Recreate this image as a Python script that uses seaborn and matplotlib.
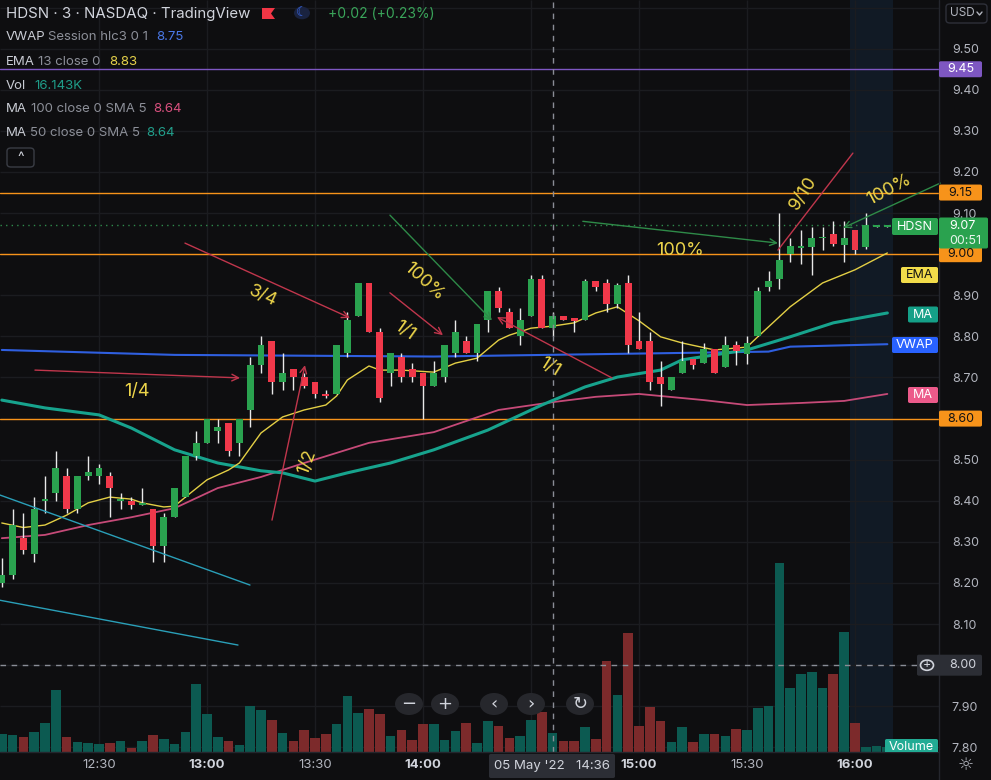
import numpy as np
import pandas as pd
import matplotlib
matplotlib.use("Agg")
import matplotlib.pyplot as plt
import seaborn as sns
from matplotlib.patches import FancyBboxPatch, Circle, Polygon

# ─── HDSN 3 min candles, 05 May '22, first visible bar = 12:03 ───
opens = [
    8.20, 8.22, 8.31, 8.27, 8.40, 8.42, 8.46, 8.38, 8.46, 8.46,
    8.46, 8.40, 8.40, 8.39, 8.38, 8.29, 8.36, 8.41, 8.51, 8.54,
    8.57, 8.59, 8.54, 8.62, 8.73, 8.79, 8.69, 8.72, 8.70, 8.69,
    8.66, 8.66, 8.76, 8.85, 8.93, 8.81, 8.71, 8.75, 8.72, 8.71,
    8.68, 8.70, 8.76, 8.79, 8.76, 8.84, 8.91, 8.86, 8.80, 8.85,
    8.94, 8.82, 8.85, 8.845, 8.84, 8.935, 8.93, 8.88, 8.93, 8.79,
    8.79, 8.70, 8.67, 8.71, 8.745, 8.735, 8.77, 8.725, 8.78, 8.757,
    8.80, 8.92, 8.94, 9.00, 9.014, 9.018, 9.039, 9.05, 9.022, 9.06,
    9.017, 9.067, 9.065]
highs = [
    8.26, 8.38, 8.37, 8.41, 8.46, 8.52, 8.48, 8.46, 8.51, 8.49,
    8.47, 8.42, 8.41, 8.43, 8.38, 8.37, 8.43, 8.51, 8.57, 8.60,
    8.60, 8.59, 8.60, 8.75, 8.80, 8.79, 8.76, 8.72, 8.71, 8.69,
    8.67, 8.78, 8.86, 8.93, 8.93, 8.82, 8.76, 8.76, 8.735, 8.71,
    8.74, 8.78, 8.84, 8.80, 8.83, 8.91, 8.92, 8.87, 8.87, 8.95,
    8.95, 8.86, 8.85, 8.845, 8.94, 8.935, 8.94, 8.93, 8.95, 8.86,
    8.81, 8.74, 8.70, 8.79, 8.745, 8.785, 8.77, 8.80, 8.79, 8.80,
    8.92, 8.96, 9.10, 9.04, 9.06, 9.067, 9.067, 9.08, 9.08, 9.06,
    9.10, 9.07, 9.07]
lows = [
    8.19, 8.21, 8.27, 8.25, 8.37, 8.40, 8.37, 8.37, 8.45, 8.44,
    8.36, 8.38, 8.38, 8.39, 8.25, 8.25, 8.36, 8.41, 8.50, 8.54,
    8.54, 8.51, 8.51, 8.58, 8.71, 8.66, 8.67, 8.67, 8.675, 8.65,
    8.65, 8.66, 8.75, 8.85, 8.81, 8.64, 8.68, 8.69, 8.69, 8.60,
    8.68, 8.69, 8.75, 8.76, 8.74, 8.81, 8.86, 8.82, 8.78, 8.85,
    8.82, 8.80, 8.84, 8.81, 8.84, 8.91, 8.86, 8.87, 8.76, 8.77,
    8.67, 8.63, 8.67, 8.71, 8.72, 8.735, 8.71, 8.725, 8.73, 8.733,
    8.80, 8.91, 8.915, 8.98, 8.975, 8.95, 9.01, 9.02, 8.98, 9.00,
    9.012, 9.065, 9.065]
closes = [
    8.22, 8.34, 8.28, 8.38, 8.40, 8.48, 8.38, 8.46, 8.47, 8.48,
    8.43, 8.40, 8.39, 8.39, 8.29, 8.36, 8.43, 8.51, 8.54, 8.60,
    8.58, 8.52, 8.60, 8.73, 8.78, 8.69, 8.71, 8.70, 8.68, 8.66,
    8.655, 8.78, 8.84, 8.93, 8.81, 8.65, 8.76, 8.70, 8.70, 8.68,
    8.71, 8.78, 8.81, 8.76, 8.83, 8.91, 8.87, 8.82, 8.84, 8.94,
    8.82, 8.85, 8.84, 8.838, 8.935, 8.92, 8.88, 8.925, 8.78, 8.77,
    8.69, 8.685, 8.70, 8.74, 8.73, 8.77, 8.71, 8.78, 8.765, 8.785,
    8.91, 8.935, 8.985, 9.02, 9.02, 9.04, 9.039, 9.025, 9.04, 9.01,
    9.07, 9.068, 9.07]
volume_k = [
    15.0, 14.2, 12.2, 16.7, 24.4, 52.4, 12.5, 8.2, 7.4, 6.5,
    7.4, 9.1, 3.1, 9.1, 14.2, 10.8, 6.5, 16.7, 57.5, 32.0,
    12.5, 9.1, 5.7, 38.8, 35.4, 26.9, 15.9, 9.1, 18.4, 11.6,
    15.0, 23.5, 47.3, 32.9, 36.3, 32.0, 13.3, 18.4, 9.9, 23.5,
    23.5, 9.9, 17.6, 24.4, 7.4, 26.1, 21.8, 11.9, 13.3, 26.9,
    33.7, 16.1, 9.1, 9.1, 21.3, 10.8, 77.1, 48.2, 101.2, 22.1,
    38.0, 26.1, 8.5, 21.3, 8.5, 15.3, 15.3, 13.6, 19.6, 18.7,
    37.4, 39.1, 160.7, 54.4, 66.0, 67.7, 54.4, 66.0, 102.0, 24.4,
    3.7, 4.8, 4.0]

# ─── indicators (bar index, value) ───
ema_i = [0, 2, 4, 6, 8, 10, 12, 13, 15, 16, 17, 19, 21, 22, 24, 26, 28, 30, 31, 32, 34,
         35, 37, 40, 42, 44, 46, 47, 49, 51, 53, 55, 57, 59, 61, 63, 66, 69, 70, 73, 76, 79, 82]
ema_v = [8.346, 8.335, 8.341, 8.365, 8.395, 8.409, 8.404, 8.395, 8.385, 8.387, 8.409, 8.451,
         8.475, 8.492, 8.565, 8.604, 8.621, 8.633, 8.655, 8.694, 8.728, 8.718, 8.718, 8.713,
         8.735, 8.747, 8.791, 8.803, 8.820, 8.825, 8.833, 8.857, 8.872, 8.838, 8.799, 8.784,
         8.767, 8.774, 8.799, 8.872, 8.930, 8.962, 9.003]
ma50_i = [0, 4, 9, 12, 16, 20, 24, 26, 29, 32, 36, 40, 45, 50, 54, 57, 61, 63, 69, 73, 77, 82]
ma50_v = [8.645, 8.626, 8.609, 8.577, 8.524, 8.492, 8.473, 8.468, 8.448, 8.468, 8.492, 8.524,
          8.572, 8.633, 8.677, 8.701, 8.718, 8.743, 8.767, 8.799, 8.833, 8.857]
ma100_i = [0, 4, 8, 12, 16, 20, 24, 28, 34, 40, 46, 51, 55, 59, 65, 69, 74, 78, 82]
ma100_v = [8.309, 8.317, 8.341, 8.360, 8.382, 8.431, 8.458, 8.492, 8.541, 8.567, 8.621,
           8.640, 8.653, 8.660, 8.645, 8.633, 8.638, 8.643, 8.660]
vwap_i = [0, 16, 40, 61, 71, 73, 82]
vwap_v = [8.767, 8.755, 8.751, 8.759, 8.763, 8.775, 8.781]

# horizontal levels
orange_levels = [9.15, 9.00, 8.60]
purple_level = 9.45
last_price = 9.07
cross_bar, cross_price = 51, 8.00

# axis ticks
price_ticks = [9.50, 9.40, 9.30, 9.20, 9.10, 8.90, 8.80, 8.70, 8.50, 8.40, 8.30, 8.20, 8.10, 7.90, 7.80]
time_ticks = [9, 19, 29, 39, 59, 69, 79]
time_labels = ["12:30", "13:00", "13:30", "14:00", "15:00", "15:30", "16:00"]
time_bold = [False, True, False, True, True, False, True]

# drawings (bar index, price)
red_arrows = [((3.07, 8.718), (22.06, 8.699)), ((16.96, 9.027), (32.24, 8.845)),
              ((25.02, 8.353), (28.07, 8.730)), ((35.94, 8.906), (40.85, 8.803)),
              ((56.5, 8.699), (45.85, 8.847))]
red_line = ((71.87, 9.010), (78.81, 9.246))
green_arrows = [((35.94, 9.095), (45.39, 8.839)), ((53.8, 9.080), (71.87, 9.027)),
                ((86.9, 9.173), (77.9, 9.064))]
cyan_lines = [((-0.17, 8.414), (22.98, 8.195)), ((-0.17, 8.158), (21.87, 8.049))]
notes = [("1/4", 12.5, 8.665, 0), ("3/4", 24.2, 8.898, -25), ("1/2", 28.3, 8.494, 70),
         ("1/1", 37.3, 8.813, -35), ("1/1", 50.7, 8.725, -32), ("9/10", 74.2, 9.148, 57),
         ("100%", 39.1, 8.934, -42), ("100%", 62.8, 9.010, 0), ("100%", 82.2, 9.156, 28)]

# ─── colours ───
BG = "#0e0e10"
GREEN, RED, WICK = "#2aa24f", "#f0384a", "#e8e8e8"
VUP, VDN = "#0c5a51", "#7c2a2b"
ORANGE, PURPLE = "#f7931a", "#7e57c2"
GRID = "#1b1c20"
TXT = "#b2b5be"
YEL = "#ecd44a"

sns.set_theme(style="dark", rc={"axes.facecolor": BG, "figure.facecolor": BG})
plt.rcParams["font.family"] = ["Inter", "DejaVu Sans"]

W, H = 991, 780
fig = plt.figure(figsize=(W / 100, H / 100), dpi=100)
rect = [0, 28.3 / H, 939.3 / W, 751.7 / H]
vax = fig.add_axes(rect)
ax = fig.add_axes(rect)
ax.patch.set_visible(False)

xlim = (-0.1667, 86.81)
ylim = (7.7895, 9.6185)
for a in (ax, vax):
    a.set_xlim(*xlim)
    for s in a.spines.values():
        s.set_visible(False)
ax.set_ylim(*ylim)
vax.set_ylim(0, 640)
vax.set_xticks([])
vax.set_yticks([])

df = pd.DataFrame({"o": opens, "h": highs, "l": lows, "c": closes, "v": volume_k})
df["i"] = np.arange(len(df))
up = (df.c >= df.o).values

# background: grid, post market shading, volume
vax.axvspan(78.5, 82.5, color="#111a25", lw=0, zorder=0)
vax.hlines(np.round(np.arange(7.8, 9.61, 0.1), 2), xlim[0], xlim[1], colors=GRID, lw=1,
           transform=ax.transData, zorder=1)
vax.vlines([9, 19, 29, 39, 49, 59, 69, 79], 0, 640, colors=GRID, lw=1, zorder=1)
vax.bar(df.i, df.v, width=0.9, color=np.where(up, VUP, VDN), linewidth=0, zorder=2)

# levels
for lv in orange_levels:
    ax.axhline(lv, color=ORANGE, lw=1, zorder=2)
ax.axhline(purple_level, color=PURPLE, lw=1, zorder=2)
ax.axhline(last_price, color="#2f8a4c", lw=1, ls=(0, (1, 3)), zorder=2)

# indicators
sns.lineplot(x=ma100_i, y=ma100_v, ax=ax, color="#c64a78", lw=1.3, zorder=3)
sns.lineplot(x=vwap_i, y=vwap_v, ax=ax, color="#2f5fe0", lw=1.5, zorder=3)
sns.lineplot(x=ma50_i, y=ma50_v, ax=ax, color="#17a38d", lw=2.2, zorder=3)
sns.lineplot(x=ema_i, y=ema_v, ax=ax, color="#e3cf45", lw=1.0, zorder=3)

# candles
ax.vlines(df.i, df.l, df.h, color=WICK, lw=1, zorder=4)
body = (df.c - df.o).abs().clip(lower=0.004)
ax.bar(df.i, body, bottom=df[["o", "c"]].min(axis=1), width=0.62,
       color=np.where(up, GREEN, RED), linewidth=0, zorder=5)

# drawings
for (x0, y0), (x1, y1) in red_arrows:
    ax.annotate("", xy=(x1, y1), xytext=(x0, y0),
                arrowprops=dict(arrowstyle="->", color="#c0364c", lw=1, shrinkA=0, shrinkB=0), zorder=6)
ax.plot([red_line[0][0], red_line[1][0]], [red_line[0][1], red_line[1][1]], color="#c0364c", lw=1, zorder=6)
for (x0, y0), (x1, y1) in green_arrows:
    ax.annotate("", xy=(x1, y1), xytext=(x0, y0),
                arrowprops=dict(arrowstyle="->", color="#2e8a48", lw=1, shrinkA=0, shrinkB=0), zorder=6)
for (x0, y0), (x1, y1) in cyan_lines:
    ax.plot([x0, x1], [y0, y1], color="#2a9fb8", lw=1, zorder=6)
for s, x, y, r in notes:
    ax.text(x, y, s, color=YEL, fontsize=13, rotation=r, ha="center", va="center",
            rotation_mode="anchor", zorder=7)

# crosshair
ax.axvline(cross_bar, color="#8a8d96", lw=1, ls=(0, (4, 4)), zorder=8)
ax.axhline(cross_price, color="#8a8d96", lw=1, ls=(0, (4, 4)), zorder=8)

# axes ticks
ax.yaxis.tick_right()
ax.set_yticks(price_ticks)
ax.set_yticklabels([f"{p:.2f}" for p in price_ticks])
ax.tick_params(axis="y", length=0, pad=9, labelsize=9, labelcolor=TXT)
ax.set_xticks(time_ticks)
ax.set_xticklabels(time_labels)
for lab, b in zip(ax.get_xticklabels(), time_bold):
    lab.set_fontweight("bold" if b else "normal")
    lab.set_color("#d1d4dc" if b else TXT)
ax.tick_params(axis="x", length=0, pad=5, labelsize=9.5)
ax.set_xlabel("")
ax.set_ylabel("")
ax.grid(False)
vax.grid(False)

# separators
fig.add_artist(plt.Line2D([939.3 / W, 939.3 / W], [0, 1], color="#24262d", lw=1))
fig.add_artist(plt.Line2D([0, 939.3 / W], [28.3 / H, 28.3 / H], color="#24262d", lw=1))


def px(x, y):
    return x / W, 1 - y / H


def ypix(price):
    return H - ax.transData.transform((0, price))[1]


def tag(x0, x1, yc, h, text, fc, tc, size=9, clip=False):
    fx, fy = px(x0, yc + h / 2)
    box = FancyBboxPatch((fx, fy), (x1 - x0) / W, h / H, boxstyle="round,pad=0,rounding_size=0.002",
                         transform=fig.transFigure, fc=fc, ec="none", zorder=10)
    fig.add_artist(box)
    tx, ty = px((x0 + x1) / 2, yc)
    t = fig.text(tx, ty, text, color=tc, fontsize=size, ha="center", va="center", zorder=11)
    if clip:
        box.set_clip_box(ax.bbox)
        t.set_clip_box(ax.bbox)
        t.set_clip_on(True)
    return t


def seg(x, y, s, color, size=9.5, **kw):
    fx, fy = px(x, y)
    fig.text(fx, fy, s, color=color, fontsize=size, ha="left", va="center", zorder=12, **kw)


# price tags on the right axis
tag(939, 982, ypix(purple_level), 16, "9.45", PURPLE, "#ffffff")
tag(939, 982, ypix(9.15), 16, "9.15", ORANGE, "#131313")
tag(939, 982, ypix(9.00), 16, "9.00", ORANGE, "#131313")
tag(939, 982, ypix(8.60), 16, "8.60", ORANGE, "#131313")
tag(939, 988, 233, 31, "", "#2aa24f", "#ffffff")
seg(949, 225.5, "9.07", "#ffffff", 9)
seg(949, 241, "00:51", "#e8f5ec", 9)
tag(917, 982, ypix(cross_price), 21, "", "#2c2e35", TXT)
seg(949, ypix(cross_price), "8.00", "#d1d4dc", 9)
fig.add_artist(Circle(px(927, ypix(cross_price)), 6.5 / W, transform=fig.transFigure,
                      fc="none", ec="#d1d4dc", lw=1.2, zorder=12))
fx, fy = px(927, ypix(cross_price))
fig.text(fx, fy, "+", color="#d1d4dc", fontsize=9, ha="center", va="center", zorder=12)

# line labels inside the chart
tag(892, 938, 226.5, 17, "HDSN", "#2aa24f", "#ffffff")
tag(901, 938, 275, 16, "EMA", "#f2dc4a", "#131313")
tag(908, 938, 314.5, 16, "MA", "#15a088", "#ffffff")
tag(892, 938, 345, 16, "VWAP", "#2962ff", "#ffffff")
tag(908, 938, 395, 16, "MA", "#ec5a8a", "#ffffff")
tag(885, 938, 747, 16, "Volume", "#22ab94", "#ffffff", clip=True)

# time tag
tag(489, 615, 766, 24, "05 May '22   14:36", "#2c2e35", "#d1d4dc", 9.5)

# header / legend
seg(6, 14, "HDSN · 3 · NASDAQ · TradingView", "#d1d4dc", 10.8)
fig.add_artist(Polygon([px(262, 8), px(275, 8), px(271, 13.5), px(275, 19), px(262, 19)],
                       closed=True, transform=fig.transFigure, fc="#f23645", ec="none"))
fig.add_artist(Circle(px(302, 13), 8 / W, transform=fig.transFigure, fc="#1a2340", ec="none"))
fx, fy = px(302, 13)
fig.text(fx, fy, "☾", color="#3b6cf0", fontsize=9, ha="center", va="center",
         family=["DejaVu Sans"], fontweight="bold")
seg(328, 14, "+0.02 (+0.23%)", "#3aa55a", 10)
seg(6, 37, "VWAP", "#c9ccd4", 9.5)
seg(48, 37, "Session hlc3 0 1", "#8c8f98", 9.5)
seg(156, 37, "8.75", "#4a78e6", 9.5)
seg(6, 62, "EMA", "#c9ccd4", 9.5)
seg(38, 62, "13 close 0", "#8c8f98", 9.5)
seg(109, 62, "8.83", "#e6d24a", 9.5)
seg(6, 86, "Vol", "#c9ccd4", 9.5)
seg(34, 86, "16.143K", "#1f9d89", 9.5)
seg(6, 109, "MA", "#c9ccd4", 9.5)
seg(31, 109, "100 close 0 SMA 5", "#8c8f98", 9.5)
seg(153, 109, "8.64", "#d9507e", 9.5)
seg(6, 133, "MA", "#c9ccd4", 9.5)
seg(30, 133, "50 close 0 SMA 5", "#8c8f98", 9.5)
seg(146, 133, "8.64", "#22a08c", 9.5)
fx, fy = px(7, 167)
fig.add_artist(FancyBboxPatch((fx, fy), 27 / W, 19 / H, boxstyle="round,pad=0,rounding_size=0.004",
                              transform=fig.transFigure, fc=BG, ec="#3a3d45", lw=1))
fx, fy = px(20.5, 158)
fig.text(fx, fy, "^", color="#d1d4dc", fontsize=10, ha="center", va="center")

# USD box
fx, fy = px(946, 23)
fig.add_artist(FancyBboxPatch((fx, fy), 41 / W, 19 / H, boxstyle="round,pad=0,rounding_size=0.004",
                              transform=fig.transFigure, fc=BG, ec="#2e3039", lw=1))
seg(950, 13.5, "USD", TXT, 8.5)
fig.add_artist(plt.Line2D([px(977, 0)[0], px(979.5, 0)[0], px(982, 0)[0]],
                          [px(0, 12)[1], px(0, 15)[1], px(0, 12)[1]], color=TXT, lw=1))

# chart navigation buttons
for x, s in [(409, "−"), (445, "+"), (494, "‹"), (531, "›"), (580, "↻")]:
    fig.add_artist(Circle(px(x, 704), 14 / W, transform=fig.transFigure, fc="#26272c", ec="none", zorder=12))
    fx, fy = px(x, 704)
    fig.text(fx, fy, s, color="#d1d4dc", fontsize=13, ha="center", va="center", zorder=13,
             family=["DejaVu Sans"])

# settings icon
fx, fy = px(966, 765)
fig.text(fx, fy, "☼", color=TXT, fontsize=13, ha="center", va="center", family=["DejaVu Sans"])

fig.savefig("out.png", dpi=100, facecolor=BG)
